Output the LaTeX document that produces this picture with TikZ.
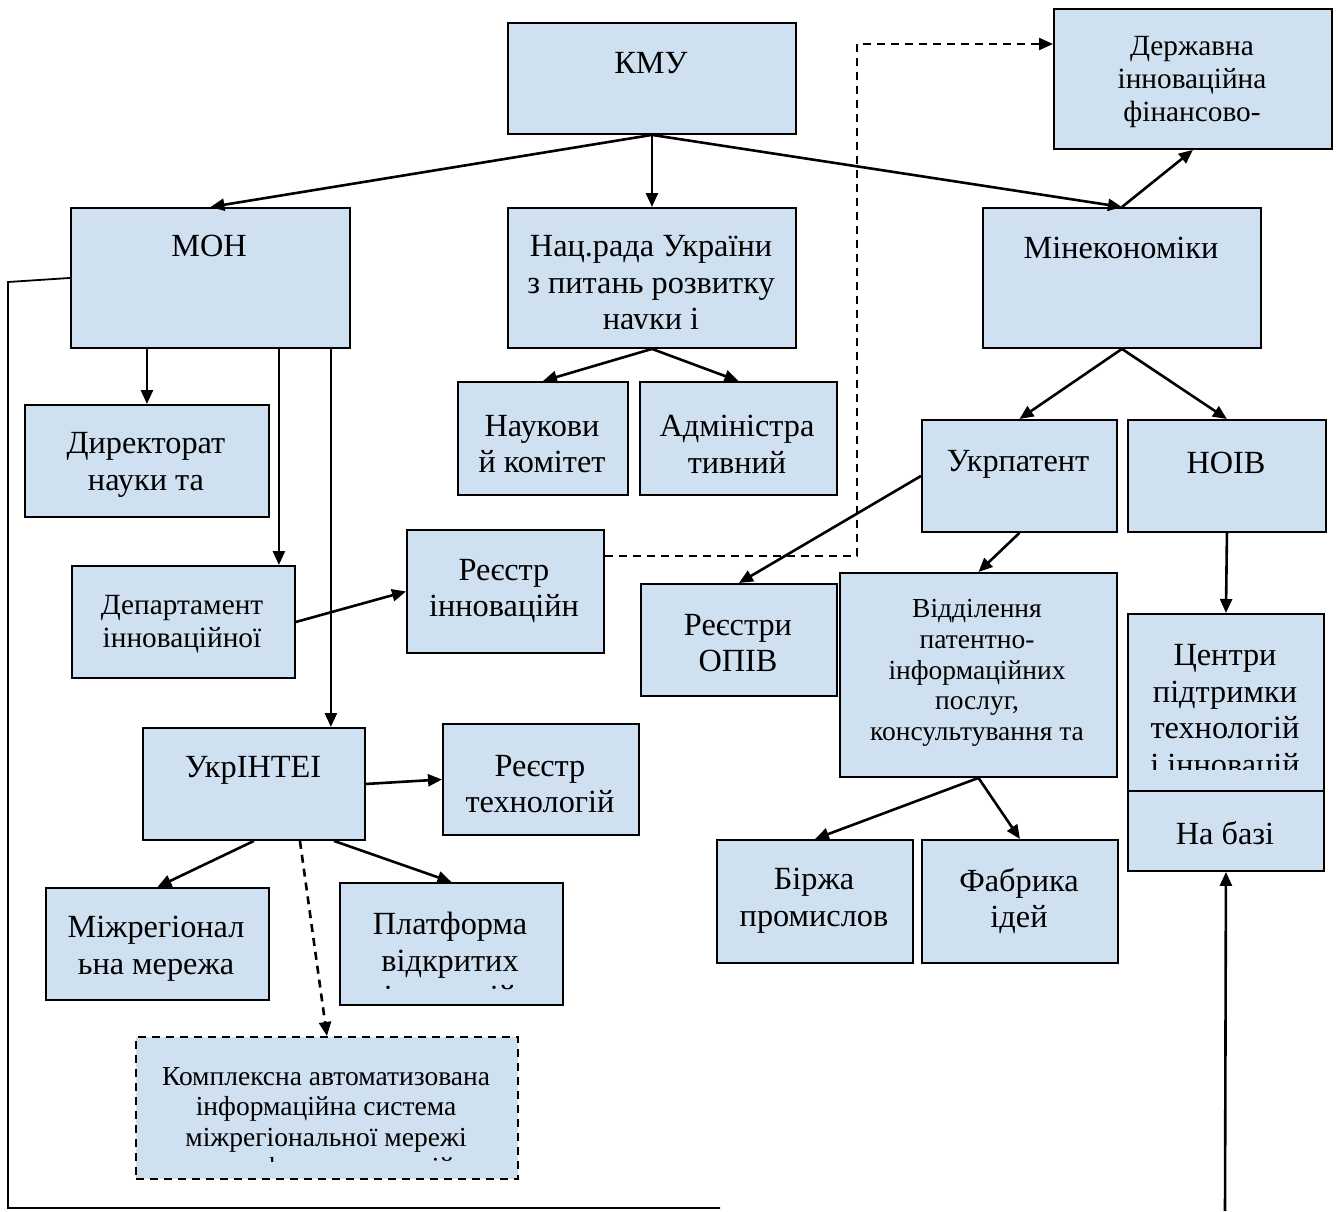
\documentclass[tikz,border=0pt]{standalone}
\usepackage{fontspec}
\setmainfont{Liberation Serif}
\usetikzlibrary{arrows.meta}
\definecolor{boxfill}{RGB}{207,224,241}
\tikzset{
  blk/.style={draw,fill=boxfill,line width=1.9pt,anchor=north west,inner sep=0pt},
  lbl/.style={align=center,inner sep=0pt,font=\fontsize{32.3}{36.8}\selectfont},
  lblmid/.style={lbl,font=\fontsize{29.3}{32.8}\selectfont},
  lblsm/.style={lbl,font=\fontsize{27.5}{30.6}\selectfont},
  dsh/.style={dash pattern=on 8pt off 6pt},
}

\begin{document}
\begin{tikzpicture}[x=1pt,y=-1pt,>={Triangle[length=14pt,width=12pt]},line width=2.6pt]

  \useasboundingbox (0,0) rectangle (1341,1211);

  \node[blk,minimum width=288,minimum height=111] (kmu) at (507,22) {};
  \node[lbl] (kmuT) at (651,63) {КМУ};

  \node[blk,minimum width=278,minimum height=140] (derzh) at (1053,8) {};
  \node[lblmid] (derzhT) at (1192,82) {Державна\\інноваційна\\фінансово-};

  \node[blk,minimum width=279,minimum height=140] (moh) at (70,207) {};
  \node[lbl] (mohT) at (209,246) {МОН};

  \node[blk,minimum width=288,minimum height=140] (nac) at (507,207) {};
  \begin{scope}
    \clip (507,207) rectangle (795,328);
    \node[lbl] (nacT) at (651,286) {Нац.рада України\\з питань розвитку\\науки і};
  \end{scope}

  \node[blk,minimum width=278,minimum height=140] (minek) at (982,207) {};
  \node[lbl] (minekT) at (1121,248) {Мінекономіки};

  \node[blk,minimum width=244,minimum height=112] (dir) at (24,404) {};
  \node[lbl] (dirT) at (146,465) {Директорат\\науки та};

  \node[blk,minimum width=170,minimum height=113] (nauk) at (457,381) {};
  \node[lbl] (naukT) at (542,444) {Наукови\\й комітет};

  \node[blk,minimum width=197,minimum height=113] (admin) at (639,381) {};
  \node[lbl] (adminT) at (737,444) {Адміністра\\тивний};

  \node[blk,minimum width=195,minimum height=112] (ukrpat) at (921,419) {};
  \node[lbl] (ukrpatT) at (1018,464) {Укрпатент};

  \node[blk,minimum width=198,minimum height=112] (noiv) at (1127,419) {};
  \node[lbl] (noivT) at (1226,463) {НОІВ};

  \node[blk,minimum width=223,minimum height=112] (dep) at (71,565) {};
  \node[lblmid] (depT) at (182,624) {Департамент\\інноваційної};

  \node[blk,minimum width=197,minimum height=123] (reinn) at (406,529) {};
  \node[lbl] (reinnT) at (504,591) {Реєстр\\інноваційн};

  \node[blk,minimum width=196,minimum height=112] (opiv) at (640,583) {};
  \node[lbl] (opivT) at (738,643) {Реєстри\\ОПІВ};

  \node[blk,minimum width=277,minimum height=204] (viddil) at (839,572) {};
  \node[lblsm] (viddilT) at (977,673) {Відділення\\патентно-\\інформаційних\\послуг,\\консультування та};

  \node[blk,minimum width=196,minimum height=177] (tsentr) at (1127,613) {};
  \begin{scope}
    \clip (1127,613) rectangle (1323,769);
    \node[lbl] (tsentrT) at (1225,713) {Центри\\підтримки\\технологій\\і інновацій};
  \end{scope}
  \node[blk,minimum width=196,minimum height=80] (nabazi) at (1127,790) {};
  \node[lbl] (nabaziT) at (1225,833) {На базі};

  \node[blk,minimum width=222,minimum height=112] (ukrinte) at (142,727) {};
  \node[lbl] (ukrinteT) at (253,770) {УкрІНТЕІ};

  \node[blk,minimum width=196,minimum height=111] (retech) at (442,723) {};
  \node[lbl] (retechT) at (540,784) {Реєстр\\технологій};

  \node[blk,minimum width=196,minimum height=123] (birzha) at (716,839) {};
  \node[lbl] (birzhaT) at (814,901) {Біржа\\промислов};

  \node[blk,minimum width=196,minimum height=123] (fabr) at (921,839) {};
  \node[lbl] (fabrT) at (1019,901) {Фабрика\\ідей};

  \node[blk,minimum width=223,minimum height=112] (mizh) at (45,887) {};
  \node[lbl] (mizhT) at (156,949) {Міжрегіонал\\ьна мережа};

  \node[blk,minimum width=223,minimum height=122] (plat) at (339,882) {};
  \begin{scope}
    \clip (339,882) rectangle (562,989);
    \node[lbl] (platT) at (450,963) {Платформа\\відкритих\\інновацій};
  \end{scope}

  \node[blk,dsh,minimum width=382,minimum height=142] (kompl) at (135,1036) {};
  \begin{scope}
    \clip (135,1036) rectangle (517,1161);
    \node[lblsm] (komplT) at (326,1125) {Комплексна автоматизована\\інформаційна система\\міжрегіональної мережі\\трансферу технологій};
  \end{scope}

  \draw[->] (kmu.south) -- (moh.north);
  \draw[->] (kmu.south) -- (nac.north);
  \draw[->] (kmu.south) -- (minek.north);
  \draw[->] (minek.north) -- (derzh.south);

  \draw[->] (dir.north |- moh.south) -- (dir.north);
  \draw[->] ([xshift=-17]dep.north east |- moh.south) -- ([xshift=-17]dep.north east);
  \draw[->] ([xshift=-35]ukrinte.north east |- moh.south) -- ([xshift=-35]ukrinte.north east);

  \draw[->] (nac.south) -- (nauk.north);
  \draw[->] (nac.south) -- (admin.north);

  \draw[->] (minek.south) -- (ukrpat.north);
  \draw[->] (minek.south) -- (noiv.north);
  \draw[->] (ukrpat.west) -- (opiv.north);
  \draw[->] (ukrpat.south) -- (viddil.north);
  \draw[->] (noiv.south) -- (tsentr.north);
  \draw[->] (viddil.south) -- (birzha.north);
  \draw[->] (viddil.south) -- (fabr.north);

  \draw[->] (dep.east) -- (reinn.west);
  \coordinate (dbend) at (857,44);
  \draw[->,dsh] ([yshift=-27]reinn.north east) -| (dbend) -- (derzh.west |- dbend);

  \draw[->] (ukrinte.east) -- (retech.west);
  \draw[->] (ukrinte.south) -- (mizh.north);
  \draw[->] ([xshift=-32]ukrinte.south east) -- (plat.north);
  \draw[->,dsh] ([xshift=46]ukrinte.south) -- (kompl.north);

  \coordinate (lturn) at (8,282);
  \coordinate (lbot) at (8,1208);
  \coordinate (lend) at (720,1208);
  \draw[line width=1.8pt] (moh.west) -- (lturn) -- (lbot) -- (lend);

  \coordinate (rbot) at (1225,1211);
  \draw[->] (rbot) -- (nabazi.south);

\end{tikzpicture}
\end{document}
